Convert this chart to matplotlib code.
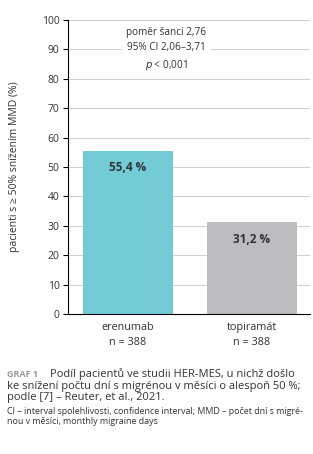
import matplotlib
matplotlib.use('Agg')
import matplotlib.pyplot as plt

plt.rcParams['font.family'] = ['Open Sans', 'DejaVu Sans']
TXT = '#333333'

categories = ['erenumab\nn = 388', 'topiramát\nn = 388']
values = [55.4, 31.2]
value_labels = ['55,4 %', '31,2 %']
colors = ['#72CBD5', '#BDBDBF']
yticks = list(range(0, 101, 10))

W, H = 313, 454
fig = plt.figure(figsize=(W / 100, H / 100), dpi=100)
ax = fig.add_axes([68 / W, 1 - 314 / H, 242 / W, 294 / H])

x = range(len(categories))
ax.bar(x, values, width=0.73, color=colors, zorder=2)
for xi, v, lab in zip(x, values, value_labels):
    ax.text(xi, v - 3.5, lab, ha='center', va='top', fontsize=8.5,
            fontweight='bold', color=TXT, zorder=3)

ax.set_xlim(-0.484, 1.468)
ax.set_ylim(0, 100)
ax.set_yticks(yticks)
ax.set_xticks(list(x))
ax.set_xticklabels(categories, fontsize=7.8, color=TXT, linespacing=1.5)
ax.tick_params(axis='y', labelsize=7.5, labelcolor=TXT, length=3.6, width=0.8, pad=2.5)
ax.tick_params(axis='x', length=0, pad=6)
ax.grid(axis='y', color='#c8c8c8', lw=0.6, zorder=0)
for s in ['top', 'right']:
    ax.spines[s].set_visible(False)
ax.spines['left'].set_linewidth(0.8)
ax.spines['bottom'].set_linewidth(0.8)
ax.set_ylabel('pacienti s ≥ 50% snížením MMD (%)', fontsize=7.5, color=TXT)
ax.yaxis.set_label_coords(-0.198, 0.5)

ax.text(0.31, 90.0, 'poměr šancí 2,76\n95% CI 2,06–3,71\n$p$ < 0,001', ha='center', va='center',
        fontsize=7.2, color=TXT, linespacing=1.5, zorder=3,
        bbox=dict(fc='white', ec='none', pad=3))

def fy(py):
    return 1 - py / H

cap = dict(fontsize=8.05, color=TXT, va='baseline', fontweight='medium')
fig.text(7 / W, fy(377), 'GRAF 1', fontsize=6.5, fontweight='bold', color='#9a9a9a', va='baseline')
fig.text(50 / W, fy(377), 'Podíl pacientů ve studii HER-MES, u nichž došlo', **cap)
fig.text(7 / W, fy(388.5), 'ke snížení počtu dní s migrénou v měsíci o alespoň 50 %;', **cap)
fig.text(7 / W, fy(400), 'podle [7] – Reuter, et al., 2021.', **cap)
fig.text(7 / W, fy(414), 'CI – interval spolehlivosti, confidence interval; MMD – počet dní s migré-',
         fontsize=6.4, color=TXT, va='baseline')
fig.text(7 / W, fy(424), 'nou v měsíci, monthly migraine days', fontsize=6.4, color=TXT, va='baseline')

fig.savefig('out.png', dpi=100, facecolor='white')
